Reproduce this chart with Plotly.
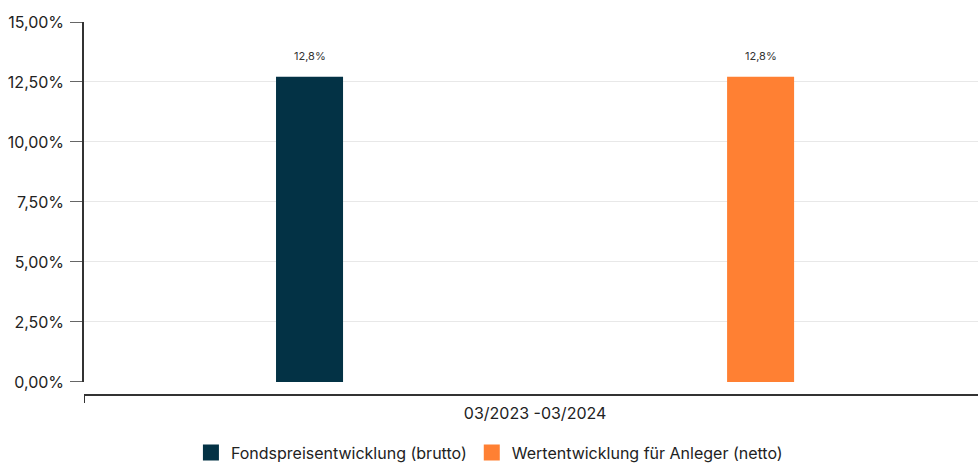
import plotly.graph_objects as go

categories = ["03/2023 -03/2024"]
series_names = ["Fondspreisentwicklung (brutto)", "Wertentwicklung für Anleger (netto)"]
series_values = [[12.72], [12.72]]
series_labels = [["12,8%"], ["12,8%"]]
colors = ["#033245", "#FF8033"]
y_ticks = [0, 2.5, 5, 7.5, 10, 12.5, 15]
y_tick_labels = [f"{v:.2f}".replace(".", ",") + "%" for v in y_ticks]

FONT = "Inter, Roboto, sans-serif"

fig = go.Figure()
offsets = [-0.25, 0.25]
for name, vals, col in zip(series_names, series_values, colors):
    fig.add_trace(go.Bar(x=categories, y=vals, name=name, marker_color=col,
                         marker_line_width=0, showlegend=False, hoverinfo="skip"))
for name, col in zip(series_names, colors):
    fig.add_trace(go.Scatter(x=[None], y=[None], mode="markers", name=name,
                             marker=dict(symbol="square", size=16, color=col)))

annotations = []
for k, (vals, labs) in enumerate(zip(series_values, series_labels)):
    for i, (v, lab) in enumerate(zip(vals, labs)):
        annotations.append(dict(x=i + offsets[k], y=v, xref="x", yref="y", text=lab,
                                showarrow=False, yshift=21,
                                font=dict(family=FONT, size=11, color="#333")))

fig.update_layout(
    width=978, height=463,
    margin=dict(l=84, r=0, t=22, b=68, autoexpand=False),
    paper_bgcolor="white", plot_bgcolor="white",
    separators=",.",
    barmode="group", bargap=0, bargroupgap=0.8514,
    font=dict(family=FONT, size=16, color="#222"),
    showlegend=True,
    legend=dict(orientation="h", x=0.4535, xanchor="center", y=-0.109, yanchor="top",
                font=dict(family=FONT, size=16, color="#222"), itemwidth=30,
                tracegroupgap=0),
    xaxis=dict(type="category", range=[-0.5, 0.491], anchor="free", position=0,
               automargin=False,
               showline=True, linecolor="#333", linewidth=1.5,
               ticks="outside", tickson="boundaries", ticklen=7, tickcolor="#333",
               ticklabelstandoff=4,
               showgrid=False, tickfont=dict(family=FONT, size=16, color="#222")),
    yaxis=dict(domain=[0.035, 1], range=[0, 15], tickvals=y_ticks, ticktext=y_tick_labels,
               automargin=False,
               showline=True, linecolor="#333", linewidth=1.5,
               ticks="outside", ticklen=12, tickcolor="#666", gridcolor="#e8e8e8",
               ticklabelstandoff=3,
               zeroline=False, tickfont=dict(family=FONT, size=16, color="#222")),
    annotations=annotations,
)

fig.write_html("out.html", config={"displayModeBar": False},
               post_script="document.body.style.margin='0';")
